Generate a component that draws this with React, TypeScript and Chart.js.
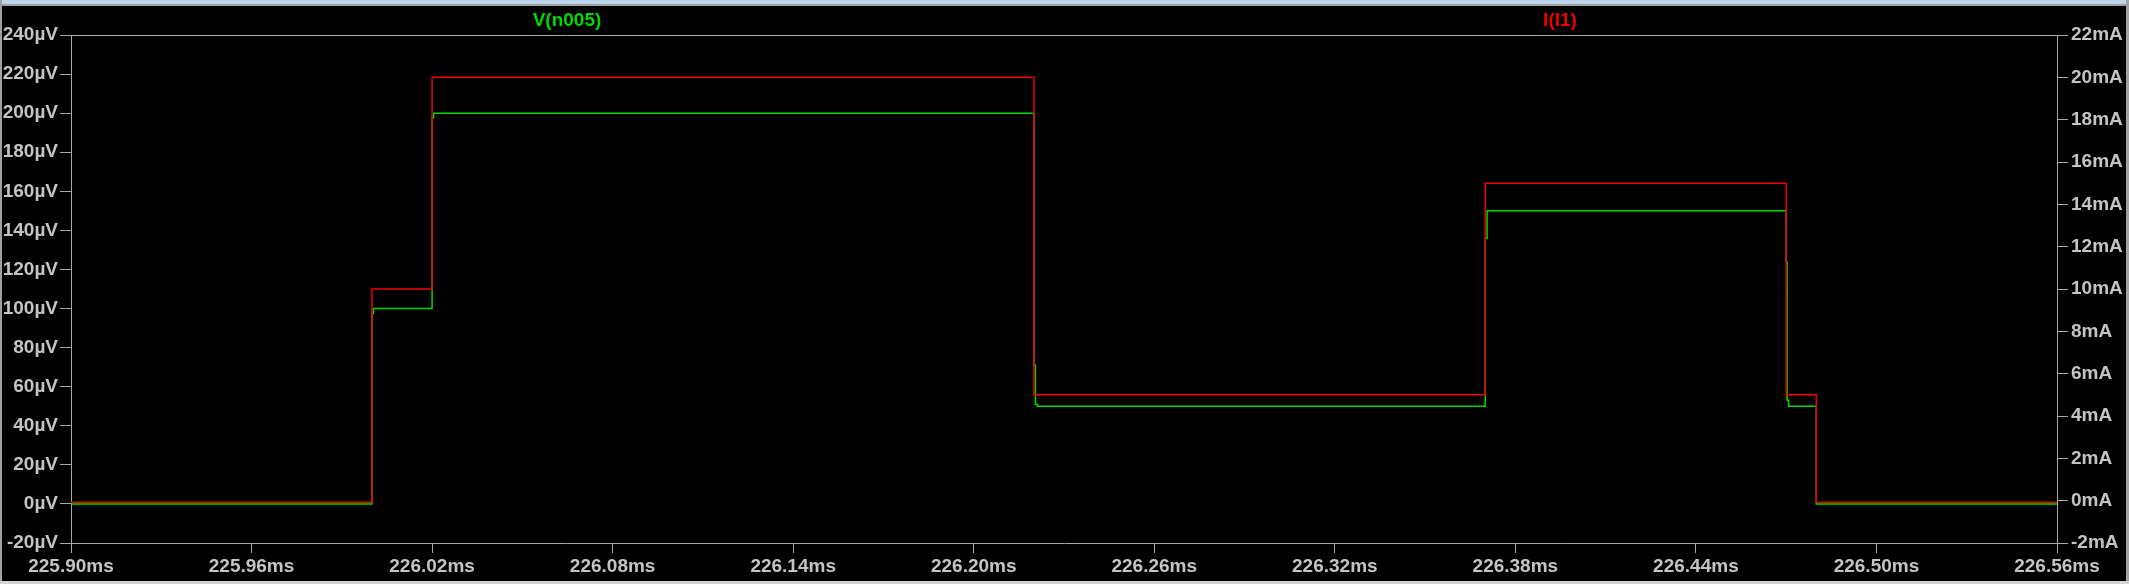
import React, { useEffect, useRef } from "react";
import { Chart, registerables } from "chart.js";

Chart.register(...registerables);

// Axis tick values
const timeTicks = [225.9, 225.96, 226.02, 226.08, 226.14, 226.2, 226.26, 226.32, 226.38, 226.44, 226.5, 226.56];
const voltTicks = [-20, 0, 20, 40, 60, 80, 100, 120, 140, 160, 180, 200, 220, 240];
const currTicks = [-2, 0, 2, 4, 6, 8, 10, 12, 14, 16, 18, 20, 22];

// I(I1) in mA: time of each step (ms) and level after the step
const currentTimes = [225.9, 226.0, 226.02, 226.22, 226.37, 226.47, 226.48, 226.56];
const currentLevels = [-0.07, 10, 20, 5, 15, 5, -0.07, -0.07];

// V(n005) in µV: time of each step (ms) and level after the step
const voltageTimes = [225.9, 226.0, 226.0005, 226.02, 226.0205, 226.22, 226.2205, 226.2212, 226.37, 226.3706, 226.47, 226.4703, 226.4708, 226.48, 226.56];
const voltageLevels = [0, 97.5, 100, 197.5, 200, 71, 51, 50, 136, 150, 124, 53, 50, 0, 0];

const seriesNames = ["V(n005)", "I(I1)"];

const GREEN = "#00d800";
const RED = "#ee0000";
const AXIS = "#a8a8a8";
const TEXT = "#c4c4c4";
const FONT = { family: "'Liberation Sans', Arial, sans-serif", size: 19, weight: "bold" as const };

const framePlugin = {
  id: "ltFrame",
  beforeDraw(chart: any) {
    const { ctx, width, height } = chart;
    ctx.save();
    ctx.fillStyle = "#000000";
    ctx.fillRect(0, 0, width, height);
    ctx.fillStyle = "#bcd4ec";
    ctx.fillRect(0, 0, width, 4);
    ctx.fillStyle = "#a0a0a0";
    ctx.fillRect(0, 4, width, 2);
    ctx.fillRect(0, 0, 2, height);
    ctx.fillRect(width - 3, 0, 3, height);
    ctx.fillStyle = "#d4d4d4";
    ctx.fillRect(0, height - 3, width, 3);
    ctx.restore();
  },
  beforeDatasetsDraw(chart: any) {
    const { ctx, chartArea } = chart;
    ctx.save();
    ctx.strokeStyle = AXIS;
    ctx.lineWidth = 1;
    ctx.beginPath();
    ctx.moveTo(chartArea.left, chartArea.top + 0.5);
    ctx.lineTo(chartArea.right, chartArea.top + 0.5);
    ctx.stroke();
    ctx.restore();
  },
  afterDraw(chart: any) {
    const { ctx } = chart;
    ctx.save();
    ctx.font = `bold ${FONT.size}px ${FONT.family}`;
    ctx.textAlign = "center";
    ctx.textBaseline = "middle";
    ctx.fillStyle = GREEN;
    ctx.fillText(seriesNames[0], 567, 21);
    ctx.fillStyle = RED;
    ctx.fillText(seriesNames[1], 1560, 21);
    ctx.restore();
  },
};

export default function App() {
  const ref = useRef<HTMLCanvasElement | null>(null);

  useEffect(() => {
    document.body.style.margin = "0";
    document.body.style.background = "#000";
    const canvas = ref.current;
    if (!canvas) return;

    const currentData = currentTimes.map((t, i) => ({ x: t, y: currentLevels[i] }));
    const voltageData = voltageTimes.map((t, i) => ({ x: t, y: voltageLevels[i] }));

    const chart = new Chart(canvas, {
      type: "line",
      data: {
        datasets: [
          {
            label: seriesNames[1],
            data: currentData,
            yAxisID: "yI",
            borderColor: RED,
            borderWidth: 1.5,
            pointRadius: 0,
            stepped: "before",
            order: 0,
          },
          {
            label: seriesNames[0],
            data: voltageData,
            yAxisID: "yV",
            borderColor: GREEN,
            borderWidth: 1.5,
            pointRadius: 0,
            stepped: "before",
            order: 1,
          },
        ],
      },
      options: {
        animation: false,
        responsive: false,
        devicePixelRatio: 1,
        layout: { padding: { top: 35, left: 0, right: 0, bottom: 0 } },
        plugins: { legend: { display: false }, tooltip: { enabled: false } },
        scales: {
          x: {
            type: "linear",
            position: "bottom",
            min: timeTicks[0],
            max: timeTicks[timeTicks.length - 1],
            afterBuildTicks: (s: any) => {
              s.ticks = timeTicks.map((v) => ({ value: v }));
            },
            afterFit: (s: any) => {
              s.height = 41;
            },
            ticks: {
              color: TEXT,
              font: FONT,
              padding: 2,
              maxRotation: 0,
              autoSkip: false,
              callback: (v: any) => `${Number(v).toFixed(2)}ms`,
            },
            grid: { drawOnChartArea: false, drawTicks: true, tickLength: 10, color: AXIS, lineWidth: 1 },
            border: { display: true, color: AXIS, width: 1 },
          },
          yV: {
            type: "linear",
            position: "left",
            min: voltTicks[0],
            max: voltTicks[voltTicks.length - 1],
            afterBuildTicks: (s: any) => {
              s.ticks = voltTicks.map((v) => ({ value: v }));
            },
            afterFit: (s: any) => {
              s.width = 71;
            },
            ticks: {
              color: TEXT,
              font: FONT,
              padding: 2,
              autoSkip: false,
              callback: (v: any) => `${v}µV`,
            },
            grid: { drawOnChartArea: false, drawTicks: true, tickLength: 11, color: AXIS, lineWidth: 1 },
            border: { display: true, color: AXIS, width: 1 },
          },
          yI: {
            type: "linear",
            position: "right",
            min: currTicks[0],
            max: currTicks[currTicks.length - 1],
            afterBuildTicks: (s: any) => {
              s.ticks = currTicks.map((v) => ({ value: v }));
            },
            afterFit: (s: any) => {
              s.width = 72;
            },
            ticks: {
              color: TEXT,
              font: FONT,
              padding: 3,
              autoSkip: false,
              callback: (v: any) => `${v}mA`,
            },
            grid: { drawOnChartArea: false, drawTicks: true, tickLength: 11, color: AXIS, lineWidth: 1 },
            border: { display: true, color: AXIS, width: 1 },
          },
        },
      },
      plugins: [framePlugin],
    } as any);

    return () => chart.destroy();
  }, []);

  return (
    <div style={{ width: 2129, height: 584, background: "#000" }}>
      <canvas ref={ref} width={2129} height={584} style={{ display: "block", width: 2129, height: 584 }} />
    </div>
  );
}
